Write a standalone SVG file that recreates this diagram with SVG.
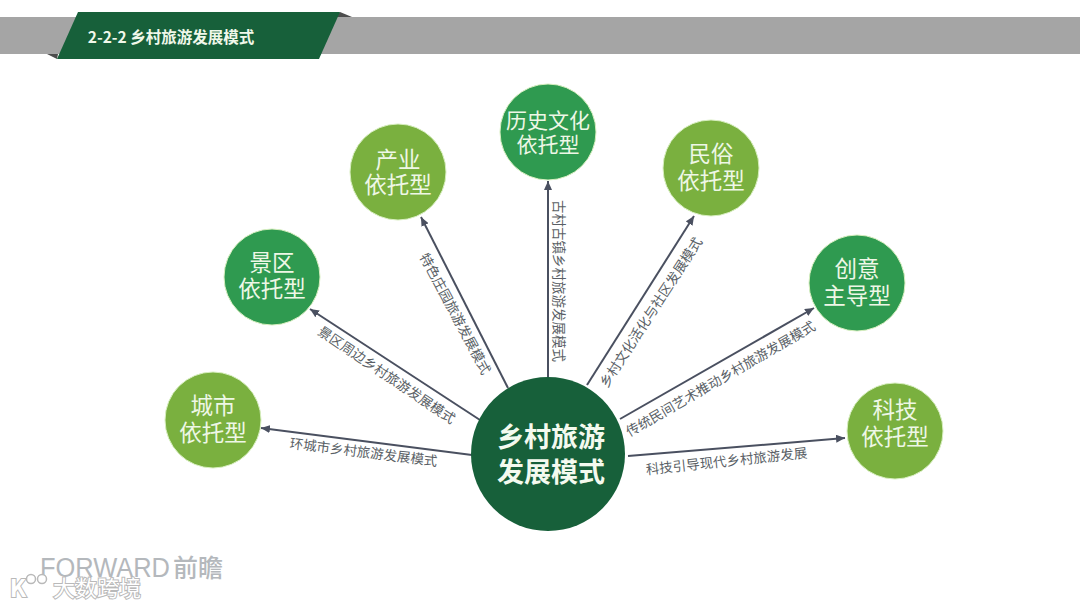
<svg xmlns="http://www.w3.org/2000/svg" width="1080" height="608" viewBox="0 0 1080 608">
<style>
text{font-family:"Noto Sans CJK SC","Noto Sans",sans-serif;text-anchor:middle}
.n{font-size:22.5px;fill:#eef7e6}
.l{font-size:13.5px;fill:#5a5f66}
.c{stroke:#4a5060;stroke-width:2;fill:none;marker-end:url(#a)}
.g1{fill:#7ab03f;stroke:#d8efc0;stroke-width:1}
.g2{fill:#2f9a50;stroke:#d8efc0;stroke-width:1}
.w{fill:#fff;stroke:#b9b9b9;stroke-width:2;paint-order:stroke}
</style>
<defs><marker id="a" markerUnits="userSpaceOnUse" markerWidth="10" markerHeight="8" refX="9" refY="4" orient="auto"><path d="M0 0L9 4L0 8Z" fill="#4a5060"/></marker></defs>
<rect width="1080" height="608" fill="#fff"/>
<g id="banner">
<rect x="0" y="17" width="1080" height="37" fill="#a5a5a5"/>
<path d="M340 12L352 17H336Z" fill="#4d4d4d"/>
<path d="M47 54H58L57 59Z" fill="#4d4d4d"/>
<path d="M78 12H340L319 59H57Z" fill="#17603a"/>
<text x="171" y="43" font-size="15.5" font-weight="700" fill="#f0f8ea">2-2-2 乡村旅游发展模式</text>
</g>
<g id="connectors">
<line class="c" x1="472" y1="455" x2="261" y2="428"/>
<line class="c" x1="480" y1="420" x2="310" y2="309"/>
<line class="c" x1="508" y1="388" x2="421" y2="217"/>
<line class="c" x1="548" y1="377" x2="548" y2="181"/>
<line class="c" x1="587" y1="385" x2="694" y2="216"/>
<line class="c" x1="620" y1="419" x2="814" y2="308"/>
<line class="c" x1="628" y1="456" x2="845" y2="438"/>
<text class="l" transform="translate(363 457) rotate(7)">环城市乡村旅游发展模式</text>
<text class="l" transform="translate(384 379) rotate(34)">景区周边乡村旅游发展模式</text>
<text class="l" transform="translate(451 316) rotate(62)">特色庄园旅游发展模式</text>
<text class="l" transform="translate(554 281) rotate(90)">古村古镇乡村旅游发展模式</text>
<text class="l" transform="translate(655 315) rotate(-57)">乡村文化活化与社区发展模式</text>
<text class="l" transform="translate(723 383) rotate(-30)">传统民间艺术推动乡村旅游发展模式</text>
<text class="l" transform="translate(727 466) rotate(-6)">科技引导现代乡村旅游发展</text>
</g>
<g id="center"><circle cx="548" cy="454" r="77" fill="#17603a"/><text x="551" y="447" font-size="27" font-weight="700" fill="#f4faef">乡村旅游</text><text x="551" y="482" font-size="27" font-weight="700" fill="#f4faef">发展模式</text></g>
<g id="node-city"><circle class="g1" cx="213" cy="420" r="48"/><text class="n" x="213" y="414">城市</text><text class="n" x="213" y="441">依托型</text></g>
<g id="node-scenic"><circle class="g2" cx="272" cy="277" r="48"/><text class="n" x="272" y="271">景区</text><text class="n" x="272" y="297">依托型</text></g>
<g id="node-industry"><circle class="g1" cx="398" cy="172" r="48"/><text class="n" x="398" y="168">产业</text><text class="n" x="398" y="193">依托型</text></g>
<g id="node-history"><circle class="g2" cx="548" cy="132" r="48"/><text class="n" x="548" y="128" style="font-size:21px">历史文化</text><text class="n" x="548" y="152" style="font-size:21px">依托型</text></g>
<g id="node-folk"><circle class="g1" cx="711" cy="168" r="48"/><text class="n" x="711" y="162">民俗</text><text class="n" x="711" y="189">依托型</text></g>
<g id="node-creative"><circle class="g2" cx="857" cy="283" r="48"/><text class="n" x="857" y="277">创意</text><text class="n" x="857" y="304">主导型</text></g>
<g id="node-tech"><circle class="g1" cx="895" cy="431" r="48"/><text class="n" x="895" y="418">科技</text><text class="n" x="895" y="445">依托型</text></g>
<g id="watermark">
<text x="105" y="577" font-size="27" fill="#b4b8bc" textLength="130" lengthAdjust="spacingAndGlyphs" style="font-family:'Liberation Sans',sans-serif">FORWARD</text>
<text x="198" y="577" font-size="25" font-weight="500" fill="#b4b8bc">前瞻</text>
<text class="w" x="97" y="596" font-size="22">大数跨境</text>
<text class="w" x="18" y="597" font-size="24" font-weight="700">K</text>
<circle cx="31" cy="579" r="4.5" fill="#fff" stroke="#b9b9b9" stroke-width="1.5"/>
<circle cx="42" cy="579" r="4.5" fill="#fff" stroke="#b9b9b9" stroke-width="1.5"/>
</g>
</svg>
